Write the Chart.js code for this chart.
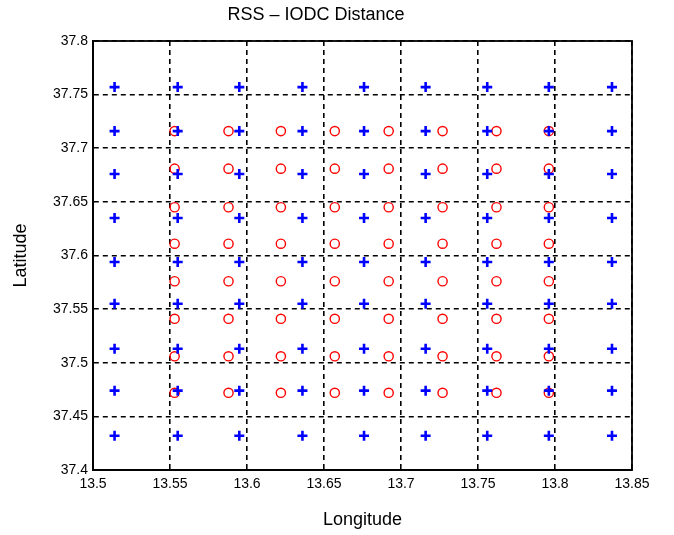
<!DOCTYPE html>
<html>
<head>
<meta charset="utf-8">
<script src="https://cdn.jsdelivr.net/npm/chart.js@4/dist/chart.umd.min.js"></script>
<style>
    html, body { margin: 0; padding: 0; background: #fff; }
    #wrap { width: 674px; height: 535px; }
</style>
</head>
<body>
<div id="wrap"><canvas id="rssChart" width="674" height="535"></canvas></div>
<script>
// grid of RSS sample positions (blue) and IODC positions (red)
const blueLon = [13.514, 13.555, 13.595, 13.636, 13.676, 13.716, 13.756, 13.796, 13.837];
const blueLat = [37.757, 37.716, 37.676, 37.635, 37.594, 37.555, 37.513, 37.474, 37.432];
const redLon = [13.553, 13.588, 13.622, 13.657, 13.692, 13.727, 13.762, 13.796];
const redLat = [37.716, 37.681, 37.645, 37.611, 37.576, 37.541, 37.506, 37.472];
const xTicks = [13.5, 13.55, 13.6, 13.65, 13.7, 13.75, 13.8, 13.85];
const yTicks = [37.4, 37.45, 37.5, 37.55, 37.6, 37.65, 37.7, 37.75, 37.8];

function gridPoints(lons, lats) {
    const pts = [];
    lats.forEach(lat => lons.forEach(lon => pts.push({ x: lon, y: lat })));
    return pts;
}

// solid box round the plot area, like the matlab axes
const frame = {
    id: "frame",
    afterDraw(chart) {
        const a = chart.chartArea;
        const c = chart.ctx;
        c.save();
        c.strokeStyle = "#000";
        c.lineWidth = 1.8;
        c.strokeRect(a.left, a.top, a.right - a.left, a.bottom - a.top);
        c.restore();
    }
};

const font = "'Liberation Sans', Arial, sans-serif";

new Chart(document.getElementById("rssChart").getContext("2d"), {
    type: "scatter",
    data: {
        datasets: [
            {
                label: "RSS",
                data: gridPoints(blueLon, blueLat),
                pointStyle: "cross",
                pointRadius: 5,
                borderWidth: 2.6,
                borderColor: "#0000ff",
                backgroundColor: "#0000ff"
            },
            {
                label: "IODC",
                data: gridPoints(redLon, redLat),
                pointStyle: "circle",
                pointRadius: 4.6,
                borderWidth: 1.4,
                borderColor: "#ff0000",
                backgroundColor: "rgba(0,0,0,0)"
            }
        ]
    },
    options: {
        responsive: false,
        animation: false,
        events: [],
        layout: { padding: { left: 0, right: 42, top: 0, bottom: 0 } },
        plugins: {
            legend: { display: false },
            tooltip: { enabled: false },
            title: {
                display: true,
                text: "RSS \u2013 IODC Distance",
                color: "#000",
                font: { family: font, size: 18, weight: "normal", lineHeight: 1.2 },
                padding: { top: 4, bottom: 15.4 }
            }
        },
        scales: {
            x: {
                type: "linear",
                min: 13.5,
                max: 13.85,
                afterBuildTicks: s => { s.ticks = xTicks.map(v => ({ value: v })); },
                afterFit: s => { s.height = 65; },
                ticks: {
                    color: "#000",
                    font: { family: font, size: 14 },
                    padding: 6,
                    maxRotation: 0,
                    callback: v => String(v)
                },
                grid: { color: "#000", lineWidth: 1.6, drawTicks: false },
                border: { color: "#000", width: 1.8, dash: [5, 4] },
                title: {
                    display: true,
                    text: "Longitude",
                    color: "#000",
                    font: { family: font, size: 18 },
                    padding: { top: 0, bottom: 4 }
                }
            },
            y: {
                type: "linear",
                min: 37.4,
                max: 37.8,
                afterBuildTicks: s => { s.ticks = yTicks.map(v => ({ value: v })); },
                afterFit: s => { s.width = 93; },
                ticks: {
                    color: "#000",
                    font: { family: font, size: 14 },
                    padding: 5,
                    callback: v => String(v)
                },
                grid: { color: "#000", lineWidth: 1.6, drawTicks: false },
                border: { color: "#000", width: 1.8, dash: [5, 4] },
                title: {
                    display: true,
                    text: "Latitude",
                    color: "#000",
                    font: { family: font, size: 18 },
                    padding: { top: 10, bottom: 0 }
                }
            }
        }
    },
    plugins: [frame]
});
</script>
</body>
</html>
